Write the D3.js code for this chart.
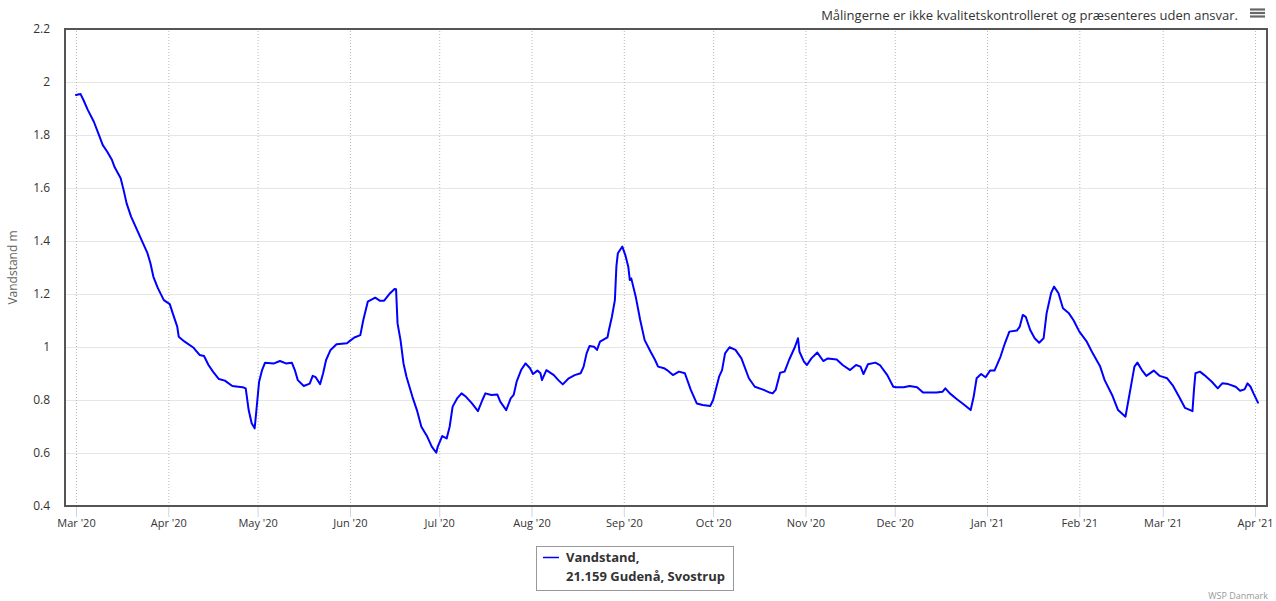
<!DOCTYPE html>
<html>
<head>
<meta charset="utf-8">
<title>Vandstand, 21.159 Gudenå, Svostrup</title>
<script src="https://cdn.jsdelivr.net/npm/d3@7/dist/d3.min.js"></script>
<style>
    html, body { margin: 0; padding: 0; background: #fff; }
    svg { display: block; font-family: "Open Sans", "DejaVu Sans", sans-serif; }
</style>
</head>
<body>
<div id="chart"></div>
<script>
// Water level readings.
// dayOffsets are days after startDate (UTC), waterLevels are metres.
var startDate = "2020-03-01";

var dayOffsets = [
    0, 1.5, 2.5, 4, 6, 7.5, 9, 10.5, 12, 13, 15, 16, 17, 18.5, 20.5, 22, 24, 25, 26, 27.5,
    29.5, 31.5, 32.5, 34, 34.5, 36.5, 39.5, 41.5, 43, 44.5, 46, 48, 50, 52.5, 54.5, 56, 57, 58, 59, 60,
    60.5, 61.5, 62.5, 63.5, 66.5, 68.5, 70.5, 72.5, 73.5, 74.5, 76.5, 78.5, 79.5, 80.5, 82, 83, 84, 85.5, 87.5, 91,
    92, 93.5, 95.5, 96.5, 98, 100.5, 102, 103.5, 105.5, 107, 107.5, 108, 109, 110, 111, 113, 114.5, 116, 118, 119.5,
    121, 121.5, 123, 124.5, 125.5, 126.5, 128, 129.5, 131, 133, 135, 136.5, 137.5, 139.5, 141.5, 142.5, 144.5, 146, 147, 148,
    149.5, 151, 152.5, 153.5, 155, 156, 156.5, 158, 160.5, 162, 163.5, 165.5, 167.5, 169.5, 170.5, 171.5, 172.5, 174, 175, 176,
    178.5, 179, 180, 181, 181.5, 182, 183.5, 184.5, 185.5, 186, 186.5, 188, 189.5, 191, 193, 194.5, 195.5, 197.5, 198.5, 200.5,
    202.5, 204.5, 206.5, 208.5, 210.5, 213, 214, 216, 217, 218, 219.5, 221.5, 223.5, 226, 228, 231, 233, 234, 235, 236.5,
    238, 239.5, 241.5, 242.5, 243, 244.5, 245.5, 247, 249, 251, 252.5, 255.5, 257.5, 260, 262, 263.5, 264.5, 266, 268.5, 270,
    272.5, 274.5, 275.5, 278, 280, 282.5, 284.5, 287, 289, 291, 292, 293.5, 296, 298, 300.5, 301.5, 302.5, 304, 305.5, 307,
    308.5, 310.5, 312, 313.5, 316, 317, 318, 319, 320.5, 322, 323.5, 325, 326, 327.5, 328.5, 330, 331.5, 333.5, 335, 337,
    339.5, 341.5, 344, 345.5, 348, 350, 352.5, 353.5, 354.5, 355.5, 356.5, 358, 359.5, 362, 364, 366.5, 368.5, 370.5, 372.5, 375,
    375.5, 376, 377.5, 379, 381.5, 383.5, 385, 387, 389.5, 391, 392.5, 393.5, 394.5, 395.5, 397
];

var waterLevels = [
    1.951, 1.955, 1.932, 1.894, 1.850, 1.806, 1.762, 1.737, 1.708, 1.678, 1.637, 1.592, 1.542, 1.492, 1.442, 1.404, 1.354, 1.316, 1.265, 1.222,
    1.177, 1.162, 1.127, 1.077, 1.039, 1.020, 0.997, 0.970, 0.966, 0.932, 0.907, 0.879, 0.873, 0.853, 0.850, 0.848, 0.844, 0.762, 0.712, 0.693,
    0.750, 0.869, 0.913, 0.941, 0.938, 0.947, 0.938, 0.941, 0.913, 0.875, 0.853, 0.862, 0.891, 0.886, 0.860, 0.901, 0.951, 0.989, 1.010, 1.014,
    1.023, 1.036, 1.045, 1.102, 1.171, 1.186, 1.175, 1.175, 1.203, 1.219, 1.218, 1.089, 1.026, 0.938, 0.888, 0.812, 0.762, 0.699, 0.661, 0.624,
    0.601, 0.624, 0.664, 0.655, 0.699, 0.775, 0.806, 0.825, 0.812, 0.787, 0.758, 0.800, 0.825, 0.819, 0.821, 0.794, 0.762, 0.806, 0.819, 0.869,
    0.913, 0.938, 0.920, 0.898, 0.911, 0.901, 0.875, 0.913, 0.894, 0.875, 0.859, 0.882, 0.894, 0.901, 0.926, 0.976, 1.004, 1.001, 0.989, 1.020,
    1.036, 1.064, 1.114, 1.177, 1.303, 1.354, 1.379, 1.347, 1.303, 1.253, 1.259, 1.190, 1.102, 1.026, 0.982, 0.951, 0.926, 0.920, 0.913, 0.894,
    0.907, 0.901, 0.838, 0.787, 0.781, 0.777, 0.800, 0.888, 0.913, 0.976, 0.999, 0.989, 0.957, 0.882, 0.850, 0.838, 0.828, 0.825, 0.838, 0.903,
    0.907, 0.951, 1.001, 1.033, 0.982, 0.945, 0.932, 0.957, 0.979, 0.947, 0.957, 0.953, 0.932, 0.913, 0.932, 0.926, 0.898, 0.935, 0.941, 0.932,
    0.894, 0.850, 0.848, 0.848, 0.853, 0.848, 0.828, 0.828, 0.828, 0.831, 0.844, 0.825, 0.802, 0.785, 0.762, 0.812, 0.882, 0.898, 0.886, 0.911,
    0.911, 0.963, 1.014, 1.058, 1.062, 1.077, 1.121, 1.114, 1.064, 1.033, 1.016, 1.033, 1.127, 1.203, 1.228, 1.203, 1.146, 1.127, 1.102, 1.058,
    1.020, 0.976, 0.926, 0.875, 0.819, 0.762, 0.737, 0.800, 0.863, 0.926, 0.941, 0.913, 0.891, 0.911, 0.891, 0.882, 0.853, 0.812, 0.770, 0.758,
    0.838, 0.901, 0.907, 0.894, 0.869, 0.844, 0.863, 0.860, 0.850, 0.835, 0.840, 0.863, 0.850, 0.825, 0.790
];

var xTickLabels = [
    "Mar '20", "Apr '20", "May '20", "Jun '20", "Jul '20", "Aug '20", "Sep '20",
    "Oct '20", "Nov '20", "Dec '20", "Jan '21", "Feb '21", "Mar '21", "Apr '21"
];
var yTickValues = [0.4, 0.6, 0.8, 1.0, 1.2, 1.4, 1.6, 1.8, 2.0, 2.2];
var yTickLabels = ["0.4", "0.6", "0.8", "1", "1.2", "1.4", "1.6", "1.8", "2", "2.2"];

var seriesName = "Vandstand,";
var stationName = "21.159 Gudenå, Svostrup";
var disclaimerText = "Målingerne er ikke kvalitetskontrolleret og præsenteres uden ansvar.";
var yAxisTitle = "Vandstand m";
var creditText = "WSP Danmark";

(function () {
    var width = 1276, height = 601;
    // Plot area as it sits in the page, plus the padding Highcharts-like axes keep inside the frame.
    var plot = { left: 65, top: 29, right: 1267, bottom: 506, padLeft: 11, padRight: 12 };
    var plotWidth = plot.right - plot.left;
    var plotHeight = plot.bottom - plot.top;

    var parseDay = d3.utcParse("%Y-%m-%d");
    var start = parseDay(startDate);
    var points = dayOffsets.map(function (offset, i) {
        return { date: new Date(start.getTime() + offset * 864e5), value: waterLevels[i] };
    });

    // One tick at the start of every month, labelled from xTickLabels.
    var monthTicks = d3.utcMonth.range(start, d3.utcMonth.offset(start, xTickLabels.length - 1).getTime() + 1);

    var xScale = d3.scaleUtc()
        .domain([monthTicks[0], monthTicks[monthTicks.length - 1]])
        .range([plot.left + plot.padLeft, plot.right - plot.padRight]);
    var yScale = d3.scaleLinear()
        .domain([yTickValues[0], yTickValues[yTickValues.length - 1]])
        .range([plot.bottom, plot.top]);

    var svg = d3.select("#chart").append("svg")
        .attr("width", width)
        .attr("height", height);

    svg.append("rect")
        .attr("width", width)
        .attr("height", height)
        .attr("fill", "#ffffff");

    svg.append("clipPath").attr("id", "plot-clip")
        .append("rect")
        .attr("x", plot.left).attr("y", plot.top)
        .attr("width", plotWidth).attr("height", plotHeight);

    // Horizontal grid (solid) and vertical grid (dotted, one per month).
    var yGrid = svg.append("g")
        .attr("class", "grid y-grid")
        .attr("transform", "translate(" + plot.left + ",0)")
        .call(d3.axisLeft(yScale).tickValues(yTickValues).tickSize(-plotWidth).tickFormat(""));
    yGrid.select(".domain").remove();
    yGrid.selectAll("line").attr("stroke", "#e6e6e6").attr("stroke-width", 1);

    var xGrid = svg.append("g")
        .attr("class", "grid x-grid")
        .attr("transform", "translate(0," + plot.bottom + ")")
        .call(d3.axisBottom(xScale).tickValues(monthTicks).tickSize(-plotHeight).tickFormat(""));
    xGrid.select(".domain").remove();
    xGrid.selectAll("line")
        .attr("stroke", "#b8b8b8")
        .attr("stroke-width", 1)
        .attr("stroke-dasharray", "1,2");

    // The series.
    var line = d3.line()
        .x(function (d) { return xScale(d.date); })
        .y(function (d) { return yScale(d.value); });

    svg.append("path")
        .datum(points)
        .attr("class", "series")
        .attr("clip-path", "url(#plot-clip)")
        .attr("fill", "none")
        .attr("stroke", "#0000ff")
        .attr("stroke-width", 2)
        .attr("stroke-linejoin", "round")
        .attr("stroke-linecap", "round")
        .attr("d", line);

    // Plot border.
    svg.append("rect")
        .attr("x", plot.left).attr("y", plot.top)
        .attr("width", plotWidth).attr("height", plotHeight)
        .attr("fill", "none")
        .attr("stroke", "#555555")
        .attr("stroke-width", 2);

    // Axes: labels and the small month tick marks below the frame.
    var xAxis = svg.append("g")
        .attr("class", "axis x-axis")
        .attr("transform", "translate(0," + (plot.bottom + 1) + ")")
        .call(d3.axisBottom(xScale).tickValues(monthTicks).tickSizeInner(10).tickSizeOuter(0).tickPadding(2)
            .tickFormat(function (d, i) { return xTickLabels[i]; }));
    xAxis.select(".domain").remove();
    xAxis.selectAll("line").attr("stroke", "#ccd6eb");
    xAxis.selectAll("text")
        .attr("fill", "#333333")
        .style("font-size", "11px")
        .style("font-family", "'Open Sans', sans-serif");

    var yAxis = svg.append("g")
        .attr("class", "axis y-axis")
        .attr("transform", "translate(" + plot.left + ",0)")
        .call(d3.axisLeft(yScale).tickValues(yTickValues).tickSize(0).tickPadding(15)
            .tickFormat(function (d, i) { return yTickLabels[i]; }));
    yAxis.select(".domain").remove();
    yAxis.selectAll("text")
        .attr("fill", "#333333")
        .style("font-size", "12px")
        .style("font-family", "'Open Sans', sans-serif");

    svg.append("text")
        .attr("class", "y-title")
        .attr("transform", "translate(17," + ((plot.top + plot.bottom) / 2) + ") rotate(-90)")
        .attr("text-anchor", "middle")
        .attr("fill", "#666666")
        .style("font-size", "12px")
        .text(yAxisTitle);

    // Disclaimer title and the context menu button.
    svg.append("text")
        .attr("x", 1238).attr("y", 20)
        .attr("text-anchor", "end")
        .attr("fill", "#333333")
        .style("font-size", "13px")
        .text(disclaimerText);

    var menu = svg.append("g").attr("class", "menu-button");
    [9.5, 13, 16.5].forEach(function (y) {
        menu.append("line")
            .attr("x1", 1250).attr("x2", 1265)
            .attr("y1", y).attr("y2", y)
            .attr("stroke", "#666666")
            .attr("stroke-width", 2.2);
    });

    // Legend box.
    var legend = svg.append("g").attr("class", "legend").attr("transform", "translate(536,546)");
    legend.append("rect")
        .attr("x", 0.5).attr("y", 0.5)
        .attr("width", 197).attr("height", 44)
        .attr("fill", "#ffffff")
        .attr("stroke", "#999999");
    legend.append("line")
        .attr("x1", 7).attr("x2", 23)
        .attr("y1", 11.5).attr("y2", 11.5)
        .attr("stroke", "#0000ff")
        .attr("stroke-width", 1.5);
    var legendText = legend.append("text")
        .attr("fill", "#333333")
        .style("font-family", "'Open Sans', sans-serif")
        .style("font-weight", "bold")
        .style("font-size", "13px");
    legendText.append("tspan").attr("x", 30).attr("y", 16).text(seriesName);
    legendText.append("tspan").attr("x", 30).attr("y", 35).text(stationName);

    // Credits.
    svg.append("text")
        .attr("x", 1268).attr("y", 599)
        .attr("text-anchor", "end")
        .attr("fill", "#999999")
        .style("font-size", "9px")
        .text(creditText);
})();
</script>
</body>
</html>
